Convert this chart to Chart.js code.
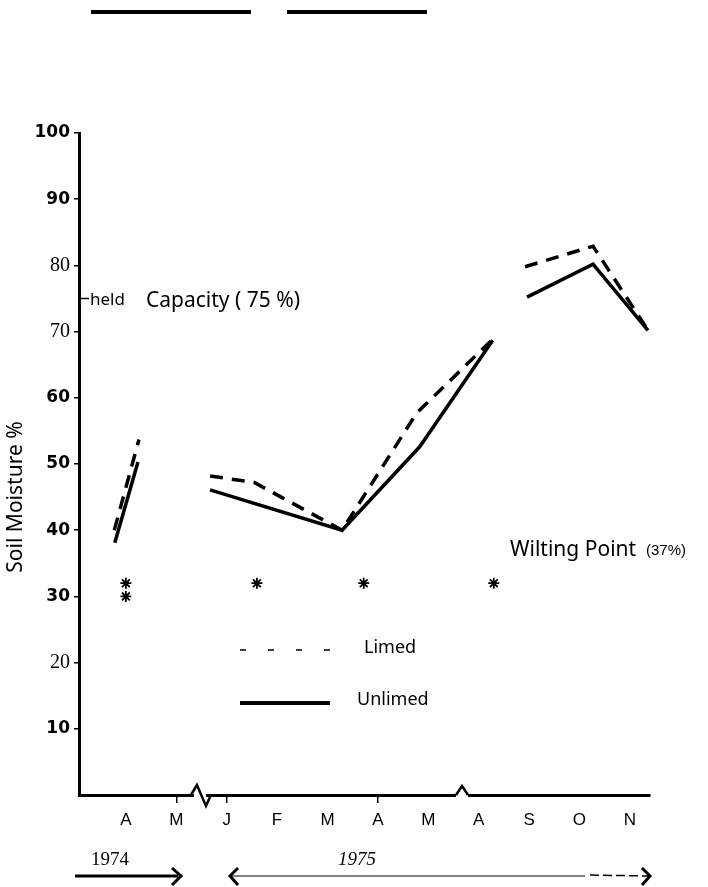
<!DOCTYPE html>
<html lang="en">
<head>
<meta charset="UTF-8">
<title>Soil Moisture</title>
<script src="https://cdn.jsdelivr.net/npm/chart.js"></script>
<style>
  html, body { margin: 0; padding: 0; background: #fff; }
  canvas { display: block; }
</style>
</head>
<body>
<canvas id="chart" width="708" height="887"></canvas>
<script>
// month axis: index 0 = A (1974) ... 10 = N (1975)
const monthLabels = ['A', 'M', 'J', 'F', 'M', 'A', 'M', 'A', 'S', 'O', 'N'];
const yTicks = [10, 20, 30, 40, 50, 60, 70, 80, 90, 100];
const serifTicks = [20, 70, 80]; // these were typed in a different face on the original
const tickMarks = [1, 2, 5]; // months that carry a small tick below the axis
const axisBreaks = [1.47, 6.67];

// Limed (dashed) - null = gap between sampling runs
const limedX = [-0.23, 0.26, 1.0, 1.67, 2.55, 4.29, 5.77, 7.30, 7.6, 7.92, 9.27, 10.36];
const limedY = [40.0, 53.7, null, 48.2, 47.2, 40.0, 57.7, 69.0, null, 79.8, 82.9, 70.2];

// Unlimed (solid)
const unlimedX = [-0.22, 0.24, 1.0, 1.67, 4.29, 5.83, 7.28, 7.6, 7.96, 9.27, 10.36];
const unlimedY = [38.1, 50.3, null, 46.1, 40.0, 52.6, 68.7, null, 75.2, 80.2, 70.2];

// significance asterisks
const sigX = [0, 0, 2.6, 4.72, 7.3];
const sigY = [32, 30, 32, 32, 32];

const fieldCapacity = 75;
const wiltingPoint = 37;

const toPoints = (xs, ys) => xs.map((x, i) => ({ x: x, y: ys[i] }));

const decor = {
    id: 'decor',
    afterDraw(chart) {
        const { ctx, scales: { x, y } } = chart;
        const axisY = y.getPixelForValue(0);
        ctx.save();
        ctx.fillStyle = '#000';
        ctx.strokeStyle = '#000';

        // rules at the very top
        ctx.fillRect(91, 10, 160, 4);
        ctx.fillRect(287, 10, 140, 4);

        // y axis title
        ctx.save();
        ctx.translate(16, 497);
        ctx.rotate(-Math.PI / 2);
        ctx.textAlign = 'center';
        ctx.textBaseline = 'middle';
        ctx.font = '21px "Noto Sans"';
        ctx.fillText('Soil Moisture %', 0, 0);
        ctx.restore();

        // axis breaks
        axisBreaks.forEach((b, i) => {
            const bx = x.getPixelForValue(b);
            ctx.fillStyle = '#fff';
            ctx.fillRect(bx - 6, axisY - 2, 12, 4);
            ctx.lineWidth = 2.5;
            ctx.beginPath();
            if (i === 0) {
                ctx.moveTo(bx - 9, axisY);
                ctx.lineTo(bx - 3, axisY - 10);
                ctx.lineTo(bx + 6, axisY + 11);
                ctx.lineTo(bx + 11, axisY);
            } else {
                ctx.moveTo(bx - 6, axisY);
                ctx.lineTo(bx, axisY - 9);
                ctx.lineTo(bx + 6, axisY);
            }
            ctx.stroke();
        });
        ctx.fillStyle = '#000';

        // field capacity marker
        const fy = y.getPixelForValue(fieldCapacity);
        ctx.lineWidth = 1.5;
        ctx.beginPath();
        ctx.moveTo(x.left, fy);
        ctx.lineTo(x.left + 10, fy);
        ctx.stroke();
        ctx.textBaseline = 'middle';
        ctx.font = '17px "Noto Sans"';
        ctx.fillText('held', x.left + 11, fy + 2);
        ctx.font = '21px "Noto Sans"';
        ctx.fillText('Capacity ( 75 %)', x.left + 67, fy + 3);

        // wilting point label
        const wy = y.getPixelForValue(wiltingPoint);
        ctx.font = '21px "Noto Sans"';
        ctx.fillText('Wilting Point', 510, wy);
        ctx.font = '15px "Liberation Sans"';
        ctx.fillText('(37%)', 646, wy + 1);

        // legend
        ctx.lineWidth = 1.5;
        for (let k = 0; k < 4; k++) {
            ctx.beginPath();
            ctx.moveTo(240 + k * 28, 650);
            ctx.lineTo(246 + k * 28, 650);
            ctx.stroke();
        }
        ctx.lineWidth = 4;
        ctx.beginPath();
        ctx.moveTo(240, 703);
        ctx.lineTo(330, 703);
        ctx.stroke();
        ctx.font = '18px "Noto Sans"';
        ctx.fillText('Limed', 364, 648);
        ctx.fillText('Unlimed', 357, 700);

        // year arrows
        ctx.font = '19px "Liberation Serif"';
        ctx.textAlign = 'center';
        ctx.textBaseline = 'alphabetic';
        ctx.fillText('1974', 110, 865);
        ctx.font = 'italic 19px "Liberation Serif"';
        ctx.fillText('1975', 357, 865);
        ctx.lineWidth = 3;
        ctx.beginPath();
        ctx.moveTo(75, 876); ctx.lineTo(178, 876);
        ctx.moveTo(172, 868); ctx.lineTo(181, 876); ctx.lineTo(172, 885);
        ctx.moveTo(238, 868); ctx.lineTo(230, 876); ctx.lineTo(238, 885);
        ctx.moveTo(642, 868); ctx.lineTo(650, 876); ctx.lineTo(642, 885);
        ctx.stroke();
        ctx.lineWidth = 1;
        ctx.beginPath();
        ctx.moveTo(232, 876); ctx.lineTo(585, 876);
        ctx.stroke();
        ctx.lineWidth = 1.5;
        ctx.setLineDash([9, 4]);
        ctx.beginPath();
        ctx.moveTo(590, 875); ctx.lineTo(648, 876);
        ctx.stroke();
        ctx.restore();
    }
};

const chart = new Chart(document.getElementById('chart').getContext('2d'), {
    type: 'scatter',
    data: {
        datasets: [
            {
                label: 'Limed',
                data: toPoints(limedX, limedY),
                showLine: true,
                borderColor: '#000',
                borderWidth: 3.5,
                borderDash: [13, 9],
                pointRadius: 0,
                spanGaps: false,
            },
            {
                label: 'Unlimed',
                data: toPoints(unlimedX, unlimedY),
                showLine: true,
                borderColor: '#000',
                borderWidth: 3.5,
                pointRadius: 0,
                spanGaps: false,
            },
            {
                label: 'Significant',
                data: toPoints(sigX, sigY),
                pointStyle: 'star',
                pointRadius: 5.5,
                borderWidth: 1.8,
                borderColor: '#000',
                backgroundColor: '#000',
            }
        ]
    },
    options: {
        responsive: false,
        animation: false,
        layout: { padding: { top: 133, right: 58, left: 0, bottom: 0 } },
        plugins: {
            legend: { display: false },
            tooltip: { enabled: false },
        },
        scales: {
            x: {
                type: 'linear',
                min: -0.93,
                max: 10.4,
                afterFit(s) { s.height = 92; },
                afterBuildTicks(s) { s.ticks = monthLabels.map((_, i) => ({ value: i })); },
                grid: {
                    drawOnChartArea: false,
                    drawTicks: true,
                    tickLength: 8,
                    lineWidth: 1.5,
                    color: (c) => tickMarks.includes(c.index) ? '#000' : 'rgba(0,0,0,0)',
                },
                border: { color: '#000', width: 3 },
                ticks: {
                    color: '#000',
                    font: { family: 'Liberation Sans', size: 17 },
                    padding: 7,
                    maxRotation: 0,
                    autoSkip: false,
                    callback: (v, i) => monthLabels[i],
                },
            },
            y: {
                min: 0,
                max: 100,
                afterFit(s) { s.width = 79; },
                afterBuildTicks(s) { s.ticks = yTicks.map(v => ({ value: v })); },
                grid: {
                    drawOnChartArea: false,
                    drawTicks: true,
                    tickLength: 5,
                    lineWidth: 1.5,
                    color: '#000',
                },
                border: { color: '#000', width: 3 },
                ticks: {
                    color: '#000',
                    font: (c) => c.tick && serifTicks.includes(c.tick.value)
                        ? { family: 'Liberation Serif', size: 20 }
                        : { family: 'DejaVu Sans', size: 17, weight: 'bold' },
                    padding: 4,
                },
                title: { display: false },
            },
        },
    },
    plugins: [decor],
});
</script>
</body>
</html>
